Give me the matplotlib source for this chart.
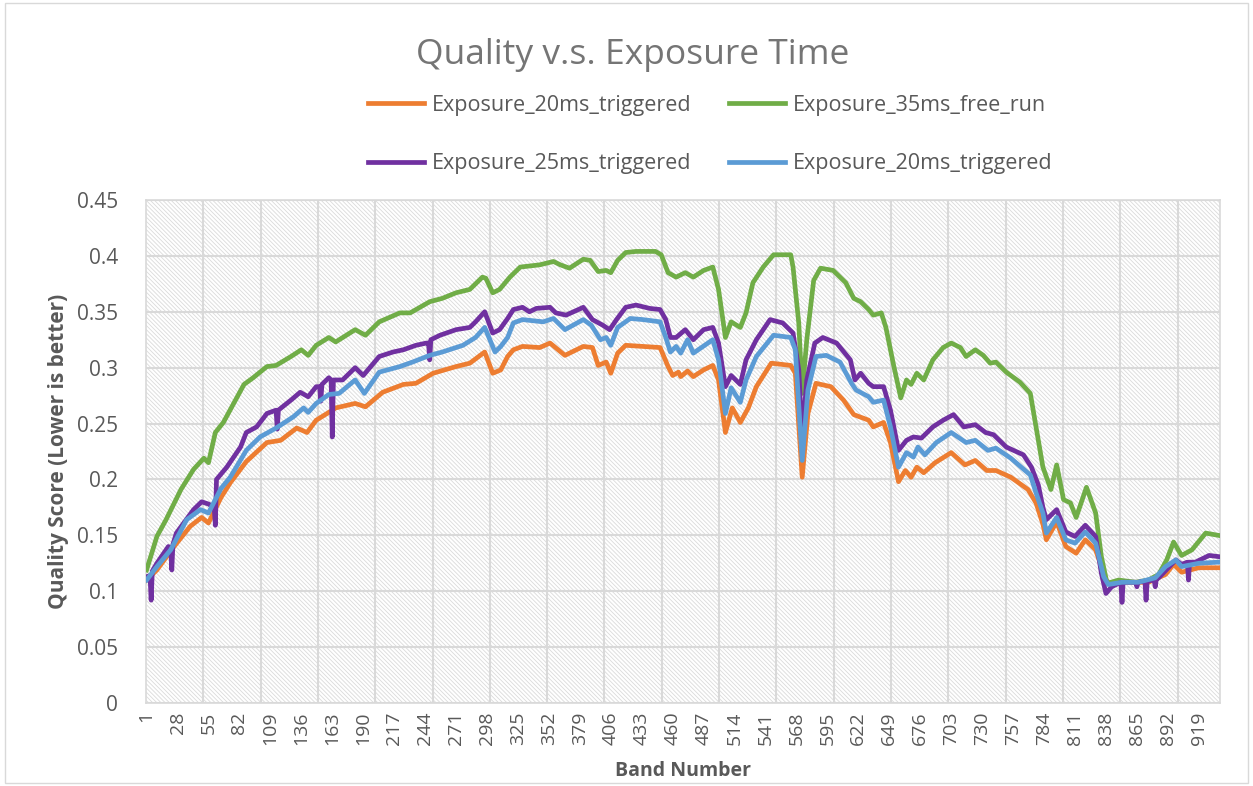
import matplotlib
matplotlib.use("Agg")
import matplotlib.pyplot as plt
from matplotlib.patches import Rectangle
import numpy as np

# Quality score per band
orange_band = [1, 10, 25, 39, 49, 55, 66, 74, 88, 106, 118, 132, 141, 149, 160, 166, 183, 192, 207, 225,
               236, 251, 271, 283, 296, 303, 310, 316, 321, 329, 344, 353, 366, 382, 390, 395, 402, 406, 412, 419,
               434, 449, 456, 460, 465, 467, 473, 478, 487, 495, 500, 506, 512, 519, 526, 533, 546, 563, 567, 573,
               578, 585, 598, 609, 618, 631, 635, 644, 650, 657, 663, 668, 673, 679, 689, 703, 715, 724, 734, 742,
               755, 770, 777, 783, 786, 795, 803, 812, 820, 829, 838, 842, 855, 875, 890, 897, 904, 919, 936]
orange_val = [0.110, 0.119, 0.140, 0.158, 0.166, 0.161, 0.184, 0.197, 0.216, 0.233, 0.235, 0.246, 0.242, 0.253, 0.260, 0.264, 0.268, 0.265, 0.278, 0.285,
              0.286, 0.295, 0.301, 0.304, 0.314, 0.295, 0.298, 0.310, 0.316, 0.319, 0.318, 0.322, 0.311, 0.319, 0.318, 0.302, 0.305, 0.295, 0.313, 0.320,
              0.319, 0.318, 0.301, 0.293, 0.296, 0.292, 0.297, 0.292, 0.298, 0.302, 0.289, 0.242, 0.264, 0.251, 0.264, 0.283, 0.304, 0.302, 0.295, 0.202,
              0.259, 0.286, 0.283, 0.271, 0.258, 0.253, 0.247, 0.251, 0.233, 0.198, 0.208, 0.202, 0.211, 0.206, 0.215, 0.224, 0.213, 0.217, 0.208, 0.208,
              0.202, 0.191, 0.179, 0.160, 0.146, 0.162, 0.140, 0.134, 0.146, 0.137, 0.110, 0.106, 0.108, 0.108, 0.115, 0.124, 0.117, 0.121, 0.121]

green_band = [1, 10, 18, 31, 42, 51, 55, 61, 68, 77, 86, 94, 106, 114, 127, 136, 142, 149, 160, 166,
              183, 192, 204, 222, 231, 248, 259, 271, 283, 294, 297, 303, 309, 318, 327, 344, 356, 362, 370, 382,
              388, 395, 402, 406, 412, 419, 428, 445, 450, 456, 463, 471, 478, 487, 495, 500, 506, 511, 519, 524,
              530, 539, 548, 563, 565, 570, 573, 577, 583, 589, 600, 611, 618, 624, 631, 635, 642, 646, 653, 659,
              664, 668, 673, 679, 687, 696, 703, 711, 716, 724, 731, 737, 742, 751, 763, 772, 777, 783, 790, 795,
              801, 807, 812, 821, 829, 834, 839, 849, 864, 875, 884, 891, 897, 904, 913, 925, 936]
green_val = [0.119, 0.149, 0.164, 0.191, 0.209, 0.219, 0.215, 0.242, 0.251, 0.268, 0.285, 0.291, 0.301, 0.302, 0.310, 0.316, 0.311, 0.320, 0.327, 0.323,
             0.334, 0.329, 0.341, 0.349, 0.349, 0.359, 0.362, 0.367, 0.370, 0.381, 0.380, 0.367, 0.370, 0.381, 0.390, 0.392, 0.395, 0.392, 0.389, 0.397,
             0.396, 0.386, 0.387, 0.385, 0.396, 0.403, 0.404, 0.404, 0.401, 0.385, 0.381, 0.385, 0.381, 0.387, 0.390, 0.370, 0.327, 0.341, 0.336, 0.349,
             0.376, 0.390, 0.401, 0.401, 0.390, 0.340, 0.277, 0.325, 0.378, 0.389, 0.387, 0.376, 0.362, 0.359, 0.352, 0.347, 0.349, 0.336, 0.301, 0.273,
             0.289, 0.285, 0.295, 0.289, 0.307, 0.318, 0.322, 0.318, 0.310, 0.316, 0.311, 0.304, 0.305, 0.296, 0.287, 0.277, 0.247, 0.211, 0.191, 0.213,
             0.182, 0.179, 0.166, 0.193, 0.170, 0.131, 0.107, 0.110, 0.108, 0.110, 0.115, 0.128, 0.144, 0.132, 0.137, 0.152, 0.150]

purple_band = [1, 4, 5, 6, 10, 20, 22, 23, 24, 27, 42, 49, 55, 60, 61, 62, 71, 83, 88, 97,
               106, 114, 115, 116, 127, 135, 142, 149, 152, 153, 154, 160, 162, 163, 164, 172, 183, 190, 204, 216,
               225, 236, 245, 247, 248, 249, 257, 271, 283, 288, 296, 303, 309, 316, 321, 329, 335, 341, 353, 358,
               367, 382, 390, 399, 405, 411, 419, 428, 440, 449, 454, 458, 463, 471, 478, 487, 495, 500, 506, 511,
               519, 524, 533, 545, 556, 565, 570, 573, 577, 584, 591, 603, 615, 619, 624, 631, 635, 644, 650, 657,
               664, 670, 677, 687, 696, 705, 714, 724, 733, 740, 751, 766, 773, 779, 783, 786, 795, 803, 811, 820,
               829, 834, 838, 843, 851, 852, 853, 864, 865, 866, 872, 873, 874, 880, 881, 882, 884, 899, 904, 909,
               910, 911, 916, 928, 936]
purple_val = [0.113, 0.114, 0.092, 0.118, 0.125, 0.140, 0.138, 0.119, 0.142, 0.152, 0.173, 0.180, 0.178, 0.175, 0.159, 0.200, 0.211, 0.229, 0.242, 0.247,
              0.259, 0.262, 0.245, 0.262, 0.271, 0.278, 0.274, 0.283, 0.283, 0.270, 0.285, 0.291, 0.289, 0.238, 0.289, 0.289, 0.300, 0.293, 0.310, 0.314,
              0.316, 0.320, 0.322, 0.322, 0.307, 0.325, 0.329, 0.334, 0.336, 0.341, 0.350, 0.331, 0.334, 0.344, 0.352, 0.354, 0.350, 0.353, 0.354, 0.349,
              0.347, 0.354, 0.343, 0.338, 0.334, 0.343, 0.354, 0.356, 0.353, 0.352, 0.343, 0.327, 0.327, 0.334, 0.325, 0.334, 0.336, 0.322, 0.283, 0.293,
              0.285, 0.307, 0.325, 0.343, 0.340, 0.331, 0.298, 0.238, 0.289, 0.322, 0.327, 0.322, 0.307, 0.289, 0.295, 0.286, 0.283, 0.283, 0.262, 0.226,
              0.235, 0.238, 0.237, 0.247, 0.253, 0.258, 0.247, 0.249, 0.242, 0.240, 0.229, 0.222, 0.211, 0.195, 0.175, 0.164, 0.173, 0.153, 0.149, 0.159,
              0.149, 0.116, 0.098, 0.104, 0.108, 0.090, 0.108, 0.108, 0.104, 0.108, 0.109, 0.092, 0.109, 0.110, 0.104, 0.111, 0.112, 0.128, 0.124, 0.126,
              0.110, 0.126, 0.126, 0.132, 0.131]

blue_band = [1, 10, 22, 36, 48, 55, 66, 74, 88, 100, 114, 129, 138, 142, 149, 160, 169, 183, 191, 204,
             222, 233, 248, 259, 277, 288, 296, 305, 310, 316, 321, 329, 347, 356, 366, 382, 389, 397, 402, 406,
             412, 423, 434, 449, 454, 458, 463, 467, 473, 478, 495, 500, 506, 511, 519, 524, 533, 548, 563, 567,
             573, 578, 585, 594, 606, 616, 620, 631, 635, 644, 650, 657, 664, 670, 674, 680, 690, 703, 716, 724,
             735, 742, 755, 772, 777, 783, 786, 795, 803, 811, 820, 829, 836, 840, 852, 866, 881, 890, 899, 904,
             919, 936]
blue_val = [0.110, 0.122, 0.137, 0.164, 0.173, 0.170, 0.192, 0.202, 0.226, 0.238, 0.246, 0.256, 0.264, 0.260, 0.268, 0.276, 0.277, 0.289, 0.277, 0.296,
            0.301, 0.305, 0.311, 0.314, 0.320, 0.327, 0.336, 0.314, 0.319, 0.327, 0.340, 0.343, 0.341, 0.344, 0.334, 0.343, 0.338, 0.325, 0.327, 0.320,
            0.336, 0.344, 0.343, 0.341, 0.327, 0.314, 0.319, 0.313, 0.325, 0.313, 0.325, 0.307, 0.259, 0.282, 0.269, 0.289, 0.310, 0.329, 0.327, 0.316,
            0.217, 0.280, 0.310, 0.311, 0.305, 0.286, 0.280, 0.274, 0.269, 0.271, 0.247, 0.211, 0.224, 0.220, 0.229, 0.222, 0.233, 0.242, 0.233, 0.235,
            0.226, 0.228, 0.219, 0.204, 0.188, 0.170, 0.152, 0.166, 0.146, 0.143, 0.153, 0.143, 0.113, 0.106, 0.108, 0.108, 0.112, 0.122, 0.128, 0.122,
            0.125, 0.126]

n_bands = 937
tick_bands = list(range(1, 920, 27))
y_ticks = [0, 0.05, 0.1, 0.15, 0.2, 0.25, 0.3, 0.35, 0.4, 0.45]
y_labels = ["0", "0.05", "0.1", "0.15", "0.2", "0.25", "0.3", "0.35", "0.4", "0.45"]

text_gray = "#595959"
grid_gray = "#d9d9d9"
plt.rcParams["font.family"] = ["Open Sans", "DejaVu Sans"]
plt.rcParams["hatch.linewidth"] = 0.6
plt.rcParams["hatch.color"] = "#dadada"

fig = plt.figure(figsize=(12.53, 7.86), dpi=100)
ax = fig.add_axes([146 / 1253, 1 - 703 / 786, (1220 - 146) / 1253, (703 - 200) / 786])

# hatched plot area
ax.add_patch(Rectangle((0, 0), 1, 1, transform=ax.transAxes, facecolor="white",
                       edgecolor="#dadada", hatch="\\" * 8, lw=0, zorder=0))

lw = 3.4
l1, = ax.plot(orange_band, orange_val, color="#ED7D31", lw=lw, label="Exposure_20ms_triggered", zorder=3)
l2, = ax.plot(green_band, green_val, color="#70AD47", lw=lw, label="Exposure_35ms_free_run", zorder=3)
l3, = ax.plot(purple_band, purple_val, color="#7030A0", lw=lw, label="Exposure_25ms_triggered", zorder=3)
l4, = ax.plot(blue_band, blue_val, color="#5B9BD5", lw=lw, label="Exposure_20ms_triggered", zorder=3)

ax.set_xlim(0.5, n_bands + 0.5)
ax.set_ylim(0, 0.45)
ax.set_xticks(tick_bands)
ax.set_xticklabels([str(b) for b in tick_bands], rotation=90, fontsize=14, color=text_gray)
ax.set_xticks(np.arange(50.5, n_bands, 50), minor=True)
ax.set_yticks(y_ticks)
ax.set_yticklabels(y_labels, fontsize=15, color=text_gray)
ax.tick_params(which="both", length=0)
ax.tick_params(axis="y", pad=20)
ax.tick_params(axis="x", pad=6)

ax.set_axisbelow(True)
ax.grid(which="major", axis="y", color=grid_gray, lw=1.5)
ax.grid(which="minor", axis="x", color=grid_gray, lw=1.5)
for s in ax.spines.values():
    s.set_color(grid_gray)
    s.set_linewidth(1.2)

ax.set_ylabel("Quality Score (Lower is better)", fontsize=15, fontweight="bold", color=text_gray, labelpad=6)
fig.text(683 / 1253, 1 - 771 / 786, "Band Number", ha="center", va="center",
         fontsize=14, fontweight="bold", color=text_gray)

fig.text(0.505, 0.93, "Quality v.s. Exposure Time", ha="center", va="center", fontsize=25.5, color="#757575")

fig.legend([l1, l3, l2, l4], [l.get_label() for l in [l1, l3, l2, l4]], ncol=2,
           loc="center", bbox_to_anchor=(0.567, 0.829), frameon=False, fontsize=15.5,
           labelcolor=text_gray, handlelength=2.6, handletextpad=0.35,
           labelspacing=1.75, columnspacing=1.75)

# chart border
fig.patches.append(Rectangle((0.004, 0.004), 0.992, 0.992, transform=fig.transFigure,
                             fill=False, edgecolor=grid_gray, lw=1))

fig.savefig("out.png", dpi=100)
